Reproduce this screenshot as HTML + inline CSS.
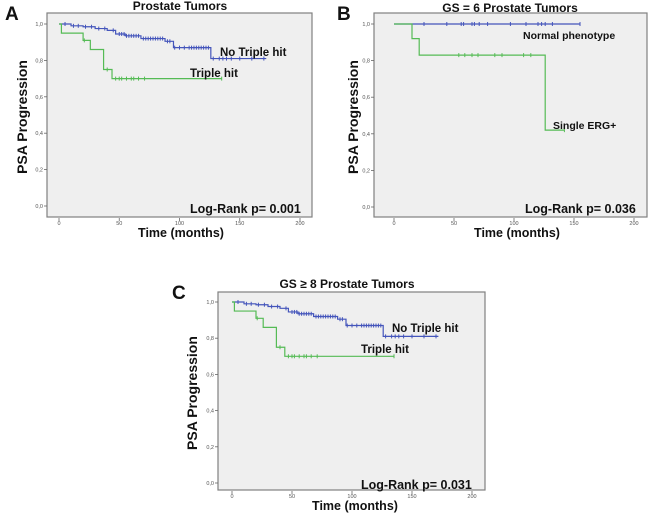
<!DOCTYPE html>
<html><head><meta charset="utf-8"><style>
html,body{margin:0;padding:0;background:#fff;width:650px;height:516px;overflow:hidden}
svg text{font-family:"Liberation Sans",sans-serif}
</style></head><body>
<svg id="fig" width="650" height="516" viewBox="0 0 650 516" xmlns="http://www.w3.org/2000/svg"></svg>
<script>
// Panel A / C data (Triple hit analysis)
const blueTimes=[0,10,20,30,40,47,55,68,88,95,126];
const blueSurv=[1,0.99,0.985,0.975,0.965,0.945,0.935,0.92,0.905,0.87,0.81];
const blueEnd=172;
const blueCens=[5,12,16,22,27,33,38,45,50,52,54,56,58,60,62,64,66,70,72,74,76,78,80,82,84,86,90,92,96,100,104,108,110,112,114,116,118,120,122,124,128,133,136,139,143,150,160,170];
const greenTimes=[0,2,20,26,37,44];
const greenSurv=[1,0.95,0.91,0.86,0.75,0.70];
const greenEnd=135;
const greenCens=[21,40,47,50,52,56,60,62,66,71,135];
// Panel B data
const bNormTimes=[0];
const bNormSurv=[1];
const bNormEnd=155;
const bNormCens=[25,44,56,58,65,67,71,78,97,110,120,123,126,132,155];
const bErgTimes=[0,15,21,126];
const bErgSurv=[1,0.92,0.83,0.42];
const bErgEnd=142;
const bErgCens=[54,59,65,70,84,90,108,114,142];
const yTicks=["0,0","0,2","0,4","0,6","0,8","1,0"];
const xTicks=[0,50,100,150,200];

const NS="http://www.w3.org/2000/svg";
const svg=document.getElementById('fig');
function mk(tag,attrs,parent,txt){const e=document.createElementNS(NS,tag);for(const k in attrs)e.setAttribute(k,attrs[k]);if(txt!==undefined)e.textContent=txt;(parent||svg).appendChild(e);return e;}

function panel(p){
  const g=mk('g',{});
  
  
  const xs=t=>p.x0+(p.x200-p.x0)*t/200;
  const ys=v=>p.y0+(p.y1-p.y0)*v;
  const fr=mk('rect',{x:p.L,y:p.T,width:p.R-p.L,height:p.B-p.T,fill:'#efefef',stroke:'#808080','stroke-width':1.2},g);
  
  yTicks.forEach((lab,i)=>{const y=ys(i/5);
    mk('line',{x1:p.L-3,x2:p.L,y1:y,y2:y,stroke:'#666','stroke-width':0.8},g);
    const t=mk('text',{x:p.L-4,y:y+2,'font-size':5.5,fill:'#555','text-anchor':'end'},g,lab);
    });
  xTicks.forEach(v=>{const x=xs(v);
    mk('line',{x1:x,x2:x,y1:p.B+1,y2:p.B+4,stroke:'#666','stroke-width':0.8},g);
    const t=mk('text',{x:x,y:p.B+8,'font-size':5.5,fill:'#555','text-anchor':'middle'},g,String(v));
    });
  p.series.forEach(s=>{
    let d='M'+xs(s.t[0])+','+ys(s.s[0]);
    for(let i=1;i<s.t.length;i++){d+=' H'+xs(s.t[i])+' V'+ys(s.s[i]);}
    d+=' H'+xs(s.end);
    const path=mk('path',{d:d,fill:'none',stroke:s.c,'stroke-width':1.2},g);
    
    s.cens.forEach(t=>{let v=s.s[0];for(let i=0;i<s.t.length;i++)if(s.t[i]<=t)v=s.s[i];
      const m=mk('line',{x1:xs(t),x2:xs(t),y1:ys(v)-2,y2:ys(v)+2,stroke:s.c,'stroke-width':1},g);
      });
  });
  p.texts.forEach(tt=>{const t=mk('text',{x:tt.x,y:tt.y,'font-size':tt.fs,'font-weight':tt.fw||'bold',fill:'#111','text-anchor':tt.a||'start','font-family':tt.ff||'"Liberation Sans",sans-serif',transform:tt.tr||''},g,tt.s);
    });
}
const ser=()=>[
  {name:'no-triple-hit',c:'#4455bb',t:blueTimes,s:blueSurv,end:blueEnd,cens:blueCens},
  {name:'triple-hit',c:'#55bb55',t:greenTimes,s:greenSurv,end:greenEnd,cens:greenCens}];
panel({id:'a',L:47,R:312,T:13,B:217,x0:59,x200:300,y0:206,y1:24,series:ser(),
 texts:[{x:5,y:20,fs:19,s:'A',n:'panel-letter',ff:'"Liberation Serif",serif'},
  {x:180,y:10,fs:12,s:'Prostate Tumors',a:'middle',n:'chart-title'},
  {x:27,y:117,fs:14,s:'PSA Progression',a:'middle',tr:'rotate(-90 27 117)',n:'y-axis-title'},
  {x:181,y:237,fs:12.5,s:'Time (months)',a:'middle',n:'x-axis-title'},
  {x:220,y:56,fs:11.5,s:'No Triple hit',n:'label-no-triple-hit'},
  {x:190,y:77,fs:11.5,s:'Triple hit',n:'label-triple-hit'},
  {x:190,y:213,fs:12.5,s:'Log-Rank p= 0.001',n:'log-rank-label'}]});
panel({id:'b',L:374,R:647,T:13,B:217,x0:394,x200:634,y0:207,y1:24,
 series:[{name:'normal-phenotype',c:'#4455bb',t:bNormTimes,s:bNormSurv,end:bNormEnd,cens:bNormCens},
  {name:'single-erg',c:'#55bb55',t:bErgTimes,s:bErgSurv,end:bErgEnd,cens:bErgCens}],
 texts:[{x:337,y:20,fs:19,s:'B',n:'panel-letter',ff:'"Liberation Serif",serif'},
  {x:510,y:12,fs:12,s:'GS = 6 Prostate Tumors',a:'middle',n:'chart-title'},
  {x:358,y:117,fs:14,s:'PSA Progression',a:'middle',tr:'rotate(-90 358 117)',n:'y-axis-title'},
  {x:517,y:237,fs:12.5,s:'Time (months)',a:'middle',n:'x-axis-title'},
  {x:523,y:39,fs:10.5,s:'Normal phenotype',n:'label-normal-phenotype'},
  {x:553,y:129,fs:10.5,s:'Single ERG+',n:'label-single-erg'},
  {x:525,y:213,fs:12.5,s:'Log-Rank p= 0.036',n:'log-rank-label'}]});
panel({id:'c',L:218,R:485,T:292,B:490,x0:232,x200:472,y0:483,y1:302,series:ser(),
 texts:[{x:172,y:299,fs:19,s:'C',n:'panel-letter',ff:'"Liberation Serif",serif'},
  {x:347,y:288,fs:12,s:'GS \u2265 8 Prostate Tumors',a:'middle',n:'chart-title'},
  {x:197,y:393,fs:14,s:'PSA Progression',a:'middle',tr:'rotate(-90 197 393)',n:'y-axis-title'},
  {x:355,y:510,fs:12.5,s:'Time (months)',a:'middle',n:'x-axis-title'},
  {x:392,y:332,fs:11.5,s:'No Triple hit',n:'label-no-triple-hit'},
  {x:361,y:353,fs:11.5,s:'Triple hit',n:'label-triple-hit'},
  {x:361,y:489,fs:12.5,s:'Log-Rank p= 0.031',n:'log-rank-label'}]});
</script>
</body></html>
